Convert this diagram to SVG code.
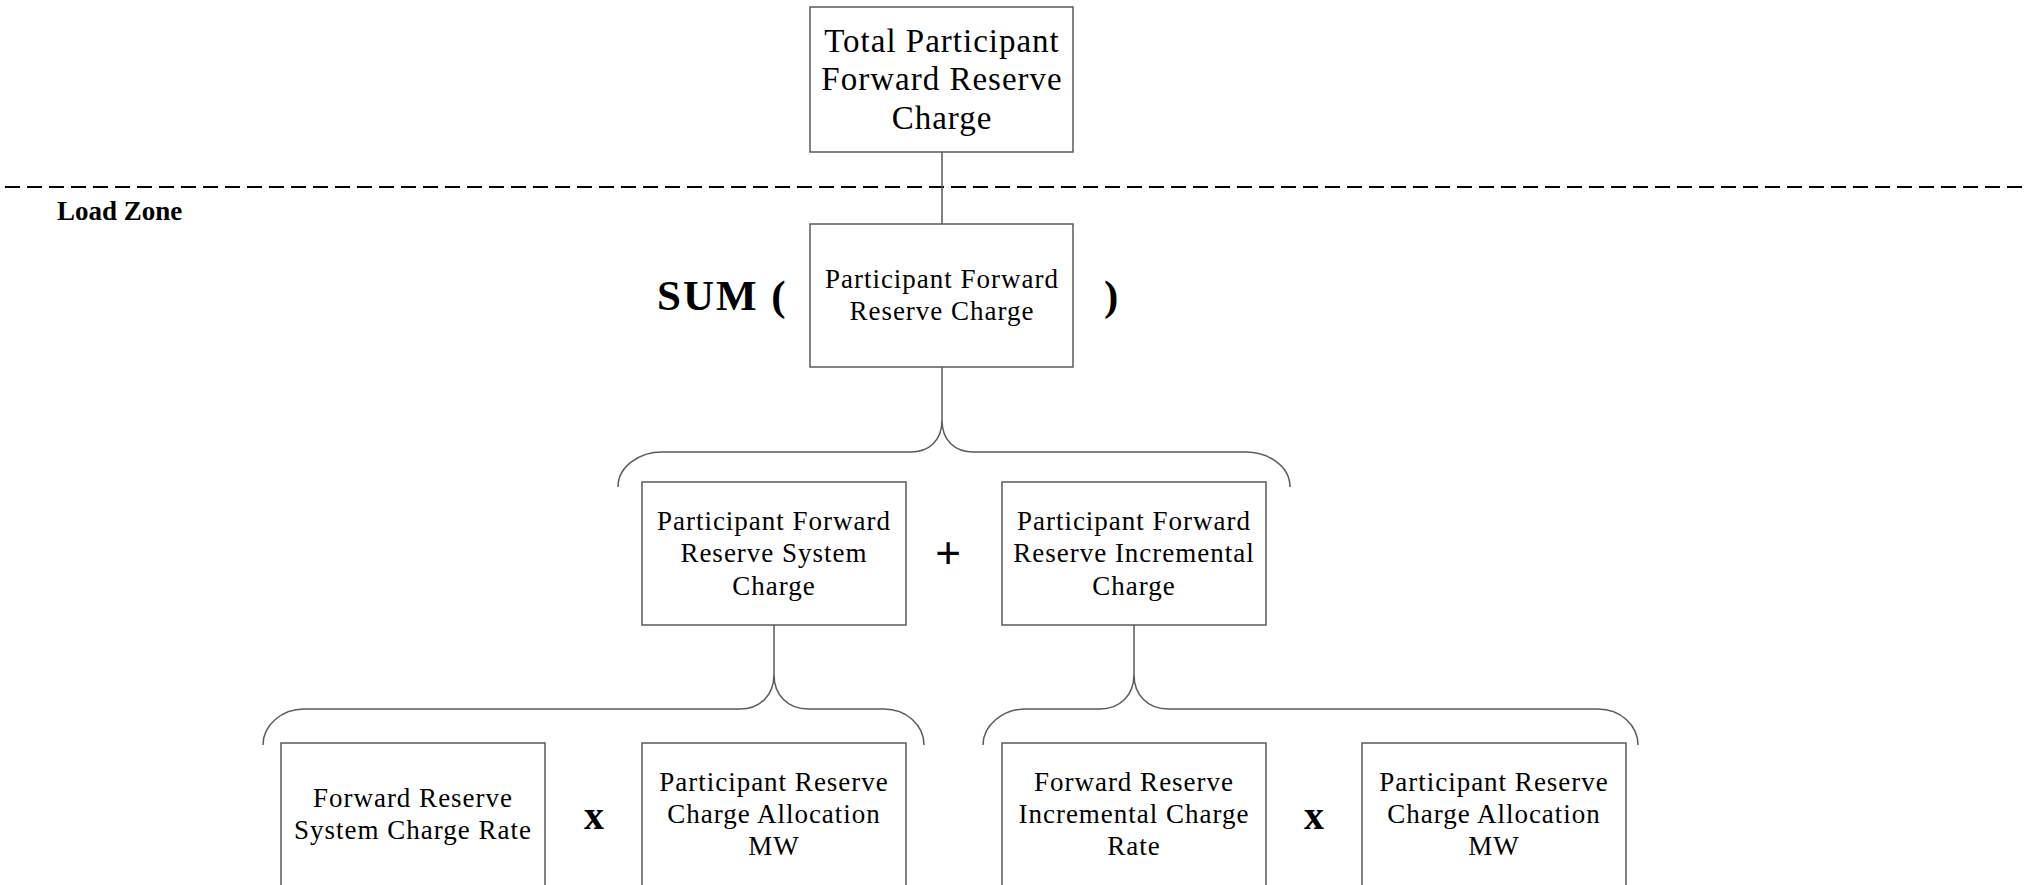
<svg xmlns="http://www.w3.org/2000/svg" width="2025" height="885" viewBox="0 0 2025 885">
<style>
.box{fill:#fff;stroke:#5a5a5a;stroke-width:1.5}
.ln{fill:none;stroke:#5a5a5a;stroke-width:1.5}
.t{font-family:"Liberation Serif","Times New Roman",serif;font-size:27px;letter-spacing:1px;fill:#000;text-anchor:middle}
.big{font-size:33px}
.op{font-family:"Liberation Serif","Times New Roman",serif;font-weight:bold;fill:#000}
</style>
<rect width="2025" height="885" fill="#fff"/>
<g id="connectors">
<line x1="5" y1="187" x2="2025" y2="187" stroke="#000" stroke-width="2" stroke-dasharray="15 7"/>
<line class="ln" x1="942" y1="152" x2="942" y2="224"/>
<line class="ln" x1="942" y1="367" x2="942" y2="420"/>
<path class="ln" d="M618,487 C618,466 640,452 662,452 L910,452 C930,452 942,440 942,420 C942,440 954,452 974,452 L1246,452 C1268,452 1290,466 1290,487"/>
<line class="ln" x1="774" y1="625" x2="774" y2="675"/>
<path class="ln" d="M263,745 C263,725 282,709 304,709 L740,709 C760,709 774,695 774,675 C774,695 788,709 808,709 L884,709 C906,709 924,725 924,745"/>
<line class="ln" x1="1134" y1="625" x2="1134" y2="675"/>
<path class="ln" d="M983,745 C983,725 1003,709 1026,709 L1100,709 C1120,709 1134,695 1134,675 C1134,695 1148,709 1168,709 L1598,709 C1620,709 1638,725 1638,745"/>
</g>
<text class="op" x="57" y="220" font-size="27">Load Zone</text>
<g id="n_total">
<rect class="box" x="810" y="7" width="263" height="145"/>
<text class="t big" x="942" y="52">Total Participant</text>
<text class="t big" x="942" y="90">Forward Reserve</text>
<text class="t big" x="942" y="129">Charge</text>
</g>
<g id="n_sum">
<text class="op" x="657" y="310" font-size="43" letter-spacing="2">SUM (</text>
<rect class="box" x="810" y="224" width="263" height="143"/>
<text class="t" x="942" y="288">Participant Forward</text>
<text class="t" x="942" y="320">Reserve Charge</text>
<text class="op" x="1104" y="310" font-size="43">)</text>
</g>
<g id="n_system">
<rect class="box" x="642" y="482" width="264" height="143"/>
<text class="t" x="774" y="530">Participant Forward</text>
<text class="t" x="774" y="562">Reserve System</text>
<text class="t" x="774" y="595">Charge</text>
</g>
<text class="op" x="948" y="569" font-size="46" text-anchor="middle">+</text>
<g id="n_incremental">
<rect class="box" x="1002" y="482" width="264" height="143"/>
<text class="t" x="1134" y="530">Participant Forward</text>
<text class="t" x="1134" y="562">Reserve Incremental</text>
<text class="t" x="1134" y="595">Charge</text>
</g>
<g id="n_sysrate">
<rect class="box" x="281" y="743" width="264" height="170"/>
<text class="t" x="413" y="807">Forward Reserve</text>
<text class="t" x="413" y="839">System Charge Rate</text>
</g>
<text class="op" x="594" y="829" font-size="40" text-anchor="middle">x</text>
<g id="n_alloc1">
<rect class="box" x="642" y="743" width="264" height="170"/>
<text class="t" x="774" y="791">Participant Reserve</text>
<text class="t" x="774" y="823">Charge Allocation</text>
<text class="t" x="774" y="855">MW</text>
</g>
<g id="n_incrate">
<rect class="box" x="1002" y="743" width="264" height="170"/>
<text class="t" x="1134" y="791">Forward Reserve</text>
<text class="t" x="1134" y="823">Incremental Charge</text>
<text class="t" x="1134" y="855">Rate</text>
</g>
<text class="op" x="1314" y="829" font-size="40" text-anchor="middle">x</text>
<g id="n_alloc2">
<rect class="box" x="1362" y="743" width="264" height="170"/>
<text class="t" x="1494" y="791">Participant Reserve</text>
<text class="t" x="1494" y="823">Charge Allocation</text>
<text class="t" x="1494" y="855">MW</text>
</g>
</svg>
